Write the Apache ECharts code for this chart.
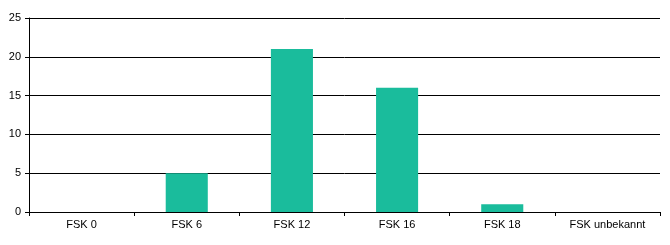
<!DOCTYPE html>
<html><head><meta charset="utf-8">
<script src="https://cdn.jsdelivr.net/npm/echarts@6/dist/echarts.min.js"></script>
<style>html,body{margin:0;padding:0;background:#fff}#c{width:670px;height:245px}</style>
</head><body><div id="c"></div>
<script>
const categories = ['FSK 0', 'FSK 6', 'FSK 12', 'FSK 16', 'FSK 18', 'FSK unbekannt'];
const values = [0, 5, 21, 16, 1, 0];
const yTicks = [0, 5, 10, 15, 20, 25];

const chart = echarts.init(document.getElementById('c'), null, {renderer: 'canvas'});
chart.setOption({
  animation: false,
  grid: {left: 29, right: 10, top: 18, bottom: 33, containLabel: false},
  xAxis: {
    type: 'category',
    data: categories,
    boundaryGap: true,
    axisLine: {lineStyle: {color: '#000', width: 1}},
    axisTick: {show: true, length: 4, lineStyle: {color: '#000'}, inside: false},
    axisLabel: {color: '#000', fontFamily: 'Liberation Sans, Arial, sans-serif', fontSize: 11, margin: 7}
  },
  yAxis: {
    type: 'value',
    min: yTicks[0], max: yTicks[yTicks.length - 1], interval: 5,
    axisLine: {show: true, lineStyle: {color: '#000', width: 1}},
    axisTick: {show: true, length: 4, lineStyle: {color: '#000'}},
    axisLabel: {color: '#000', fontFamily: 'Liberation Sans, Arial, sans-serif', fontSize: 11, margin: 8},
    splitLine: {show: true, lineStyle: {color: '#000', width: 1}}
  },
  series: [{
    type: 'bar',
    data: values,
    barWidth: '40%',
    itemStyle: {color: '#1ABC9C'}
  }]
});
</script></body></html>
